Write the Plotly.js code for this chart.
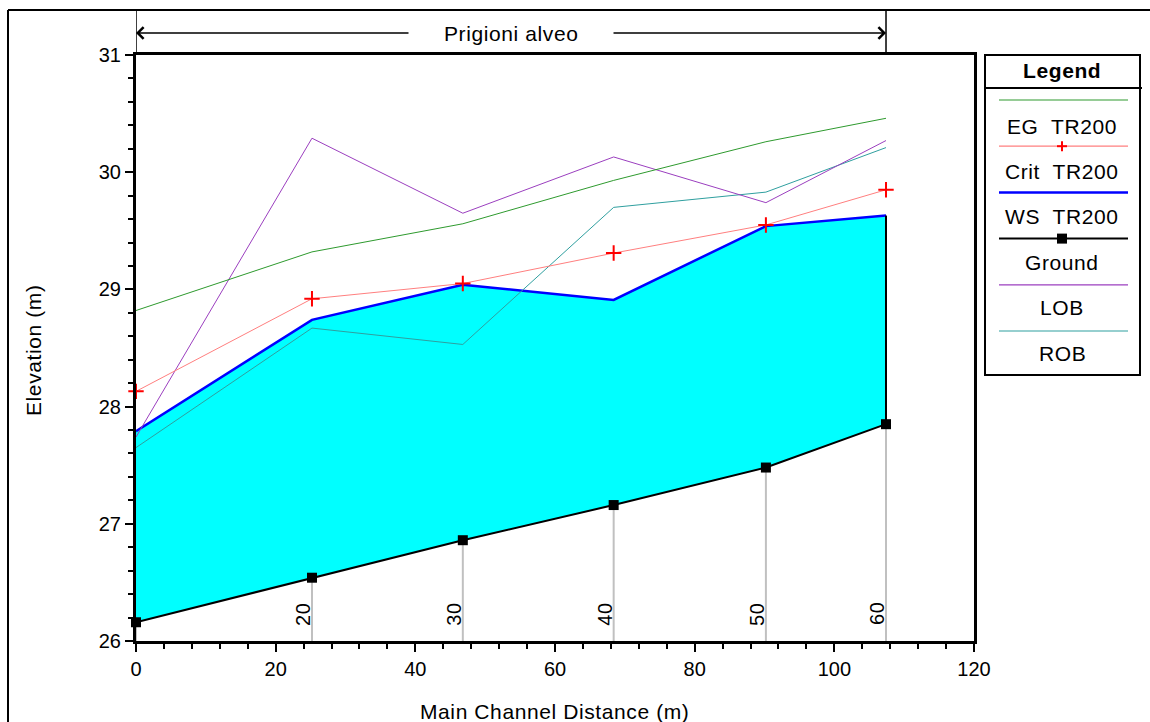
<!DOCTYPE html>
<html>
<head>
<meta charset="utf-8">
<script src="https://cdn.plot.ly/plotly-3.0.1.min.js"></script>
<style>html,body{margin:0;padding:0;background:#fff;}#chart{width:1150px;height:722px;}
.annotation-text{letter-spacing:0.6px;}</style>
</head>
<body>
<div id="chart"></div>
<script>
// ---- data ----
const distance = [0, 25.2, 46.8, 68.4, 90.2, 107.4];
const stationLabels = ['', '20', '30', '40', '50', '60'];
const ground = [26.16, 26.54, 26.86, 27.16, 27.48, 27.85];
const wsTR200 = [27.79, 28.74, 29.04, 28.91, 29.54, 29.63];
const critTR200 = [28.13, 28.92, 29.05, 29.31, 29.55, 29.85];
const egTR200 = [28.82, 29.32, 29.56, 29.93, 30.26, 30.46];
const lob = [27.74, 30.29, 29.65, 30.13, 29.74, 30.27];
const rob = [27.65, 28.67, 28.53, 29.70, 29.83, 30.21];
const reachName = 'Prigioni alveo';
const legendNames = ['EG  TR200', 'Crit  TR200', 'WS  TR200', 'Ground', 'LOB', 'ROB'];

// ---- geometry helpers ----
const W = 1150, H = 722;
const M = {l: 136, r: 176, t: 55, b: 81};
const PW = W - M.l - M.r, PH = H - M.t - M.b;
const px2x = px => (px - M.l) / PW;
const py2y = py => (H - M.b - py) / PH;
const FONT = 'Liberation Sans, Arial, sans-serif';
const TS = 21;
const yMin = 26;
const last = distance.length - 1;

const C = {eg: '#2e9a2e', crit: '#ff7f7f', critMk: '#ff0000', ws: '#0000ff', ground: '#000000',
           lob: '#9b3fbf', rob: '#2f9f9f', fill: '#00ffff', stn: '#c0c0c0'};

// station drop lines built from data
const stnX = [], stnY = [];
distance.forEach((d, i) => { stnX.push(d, d, null); stnY.push(yMin, ground[i], null); });

const traces = [
  {x: distance, y: ground, mode: 'lines', line: {width: 0, color: 'rgba(0,0,0,0)'}, hoverinfo: 'skip'},
  {x: distance, y: wsTR200, mode: 'lines', fill: 'tonexty', fillcolor: C.fill, line: {color: C.ws, width: 2.5}},
  {x: [distance[last], distance[last]], y: [ground[last], wsTR200[last]], mode: 'lines', line: {color: '#000', width: 2}},
  {x: stnX, y: stnY, mode: 'lines', line: {color: C.stn, width: 2}, connectgaps: false},
  {x: distance, y: rob, mode: 'lines', line: {color: C.rob, width: 1}},
  {x: distance, y: lob, mode: 'lines', line: {color: C.lob, width: 1}},
  {x: distance, y: egTR200, mode: 'lines', line: {color: C.eg, width: 1}},
  {x: distance, y: critTR200, mode: 'lines+markers', cliponaxis: false, line: {color: C.crit, width: 1},
   marker: {symbol: 'cross-thin', size: 11, line: {color: C.critMk, width: 2}}},
  {x: distance, y: ground, mode: 'lines+markers', cliponaxis: false, line: {color: C.ground, width: 2},
   marker: {symbol: 'square', size: 10, color: '#000'}}
];

const annotations = [];
const shapes = [];

// station labels
distance.forEach((d, i) => {
  if (!stationLabels[i]) return;
  annotations.push({x: d, y: yMin, xref: 'x', yref: 'y', text: stationLabels[i], showarrow: false,
    textangle: -90, xanchor: 'center', yanchor: 'middle', xshift: -9, yshift: 27,
    font: {family: FONT, size: 20, color: '#000'}});
});

// reach span with arrows at top
const yArrow = py2y(33);
annotations.push({x: distance[0], y: yArrow, xref: 'x', yref: 'paper', ax: 274, ay: 0, axref: 'pixel', ayref: 'pixel',
  text: '', showarrow: true, arrowhead: 4, arrowsize: 1.4, arrowwidth: 1.6, arrowcolor: '#000'});
annotations.push({x: distance[last], y: yArrow, xref: 'x', yref: 'paper', ax: -274, ay: 0, axref: 'pixel', ayref: 'pixel',
  text: '', showarrow: true, arrowhead: 4, arrowsize: 1.4, arrowwidth: 1.6, arrowcolor: '#000'});
annotations.push({x: (distance[0] + distance[last]) / 2, y: yArrow, xref: 'x', yref: 'paper', text: reachName,
  showarrow: false, xanchor: 'center', yanchor: 'middle', font: {family: FONT, size: TS, color: '#000'}});
[distance[0], distance[last]].forEach(d => shapes.push({type: 'line', xref: 'x', yref: 'paper', x0: d, x1: d,
  y0: 1, y1: py2y(10), line: {color: '#000', width: 1.5}}));

// outer frame (top and left)
shapes.push({type: 'line', xref: 'paper', yref: 'paper', x0: px2x(8), x1: px2x(1150), y0: py2y(10), y1: py2y(10), line: {color: '#000', width: 2}});
shapes.push({type: 'line', xref: 'paper', yref: 'paper', x0: px2x(8), x1: px2x(8), y0: py2y(10), y1: py2y(722), line: {color: '#000', width: 2}});

// axis titles
annotations.push({x: px2x(33), y: py2y(350), xref: 'paper', yref: 'paper', text: 'Elevation (m)', textangle: -90,
  showarrow: false, xanchor: 'center', yanchor: 'middle', font: {family: FONT, size: TS, color: '#000'}});
annotations.push({x: px2x(554), y: py2y(711), xref: 'paper', yref: 'paper', text: 'Main Channel Distance (m)',
  showarrow: false, xanchor: 'center', yanchor: 'middle', font: {family: FONT, size: TS, color: '#000'}});

// custom legend
const LX0 = 985, LX1 = 1140, LCX = 1062, LLX0 = 999, LLX1 = 1128;
shapes.push({type: 'rect', xref: 'paper', yref: 'paper', x0: px2x(LX0), x1: px2x(LX1), y0: py2y(55), y1: py2y(375),
  line: {color: '#000', width: 2}, fillcolor: 'rgba(0,0,0,0)'});
shapes.push({type: 'line', xref: 'paper', yref: 'paper', x0: px2x(LX0), x1: px2x(LX1 + 2), y0: py2y(88), y1: py2y(88),
  line: {color: '#000', width: 2}});
annotations.push({x: px2x(LCX), y: py2y(71), xref: 'paper', yref: 'paper', text: '<b>Legend</b>', showarrow: false,
  xanchor: 'center', yanchor: 'middle', font: {family: FONT, size: TS, color: '#000'}});
const legItems = [
  {color: C.eg, width: 1.2, mk: null},
  {color: C.crit, width: 1.2, mk: 'cross'},
  {color: C.ws, width: 2.5, mk: null},
  {color: C.ground, width: 2, mk: 'square'},
  {color: C.lob, width: 1.2, mk: null},
  {color: C.rob, width: 1.2, mk: null}
];
legItems.forEach((it, i) => {
  const ly = 100 + i * 46.2, ty = 126 + i * 45.4;
  shapes.push({type: 'line', xref: 'paper', yref: 'paper', x0: px2x(LLX0), x1: px2x(LLX1), y0: py2y(ly), y1: py2y(ly),
    line: {color: it.color, width: it.width}});
  if (it.mk === 'cross') {
    shapes.push({type: 'line', xref: 'paper', yref: 'paper', x0: px2x(LCX - 5), x1: px2x(LCX + 5), y0: py2y(ly), y1: py2y(ly), line: {color: C.critMk, width: 2}});
    shapes.push({type: 'line', xref: 'paper', yref: 'paper', x0: px2x(LCX), x1: px2x(LCX), y0: py2y(ly - 5), y1: py2y(ly + 5), line: {color: C.critMk, width: 2}});
  } else if (it.mk === 'square') {
    shapes.push({type: 'rect', xref: 'paper', yref: 'paper', x0: px2x(LCX - 5), x1: px2x(LCX + 5), y0: py2y(ly - 5), y1: py2y(ly + 5),
      line: {width: 0}, fillcolor: '#000'});
  }
  annotations.push({x: px2x(LCX), y: py2y(ty), xref: 'paper', yref: 'paper', text: legendNames[i], showarrow: false,
    xanchor: 'center', yanchor: 'middle', font: {family: FONT, size: TS, color: '#000'}});
});

const layout = {
  width: W, height: H,
  margin: M,
  paper_bgcolor: '#fff', plot_bgcolor: '#fff',
  showlegend: false, hovermode: false,
  font: {family: FONT, size: 20, color: '#000'},
  xaxis: {range: [0, 120], tick0: 0, dtick: 20, showgrid: false, zeroline: false,
    showline: true, mirror: true, linewidth: 3, linecolor: '#000',
    ticks: 'outside', ticklen: 8, tickwidth: 2, tickcolor: '#000',
    minor: {dtick: 4, tick0: 0, ticks: 'outside', ticklen: 5, tickwidth: 2, tickcolor: '#000', showgrid: false},
    tickfont: {family: FONT, size: 20, color: '#000'}, fixedrange: true},
  yaxis: {range: [26, 31], tick0: 26, dtick: 1, showgrid: false, zeroline: false,
    showline: true, mirror: true, linewidth: 3, linecolor: '#000',
    ticks: 'outside', ticklen: 8, tickwidth: 2, tickcolor: '#000',
    minor: {dtick: 0.2, tick0: 26, ticks: 'outside', ticklen: 5, tickwidth: 2, tickcolor: '#000', showgrid: false},
    tickfont: {family: FONT, size: 20, color: '#000'}, fixedrange: true},
  shapes: shapes,
  annotations: annotations
};

Plotly.newPlot('chart', traces, layout, {staticPlot: true, displayModeBar: false});
</script>
</body>
</html>
